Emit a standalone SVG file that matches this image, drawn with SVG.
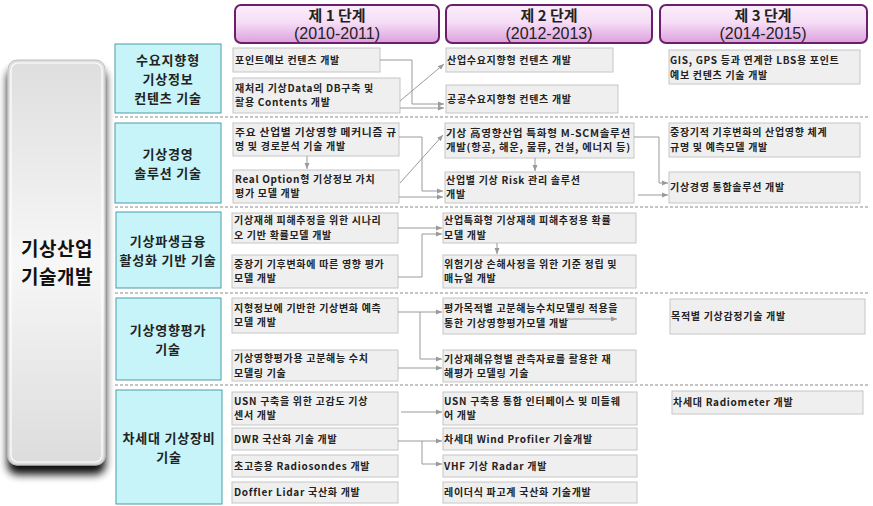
<svg xmlns="http://www.w3.org/2000/svg" width="873" height="506" viewBox="0 0 873 506">
<defs>
<linearGradient id="hdr" x1="0" y1="0" x2="0" y2="1">
<stop offset="0" stop-color="#fbeefb"/>
<stop offset="0.45" stop-color="#f6def6"/>
<stop offset="1" stop-color="#dc9fdc"/>
</linearGradient>
<linearGradient id="big" x1="0" y1="0" x2="0" y2="1">
<stop offset="0" stop-color="#dedede"/>
<stop offset="0.5" stop-color="#f7f7f7"/>
<stop offset="1" stop-color="#dcdcdc"/>
</linearGradient>
<filter id="sh" x="-30%" y="-10%" width="160%" height="125%">
<feGaussianBlur in="SourceAlpha" stdDeviation="4"/>
<feOffset dx="0" dy="9" result="b"/>
<feComponentTransfer><feFuncA type="linear" slope="0.95"/></feComponentTransfer>
<feMerge><feMergeNode/><feMergeNode in="SourceGraphic"/></feMerge>
</filter>
<marker id="ah" markerWidth="6" markerHeight="6" refX="6" refY="3" orient="auto" markerUnits="userSpaceOnUse">
<path d="M0,0.5 L6,3 L0,5.5 z" fill="#9a9a9a"/>
</marker>
<style>
.hb{fill:url(#hdr);stroke:#6b1f6b;stroke-width:2}
.h1{font-family:"Noto Sans CJK KR","Noto Sans",sans-serif;font-size:15px;font-weight:700;fill:#222;text-anchor:middle}
.h2{font-family:"Liberation Sans",Arial,sans-serif;font-size:16px;fill:#222;text-anchor:middle}
.cat{fill:#c6f4f8;stroke:#4b9da6;stroke-width:1}
.ct{font-family:"Noto Sans CJK KR","Noto Sans",sans-serif;font-size:13px;font-weight:700;fill:#222;text-anchor:middle;letter-spacing:0.8px}
.it{fill:#efefef;stroke:#c6c6c6;stroke-width:1}
.t{font-family:"Noto Sans CJK KR","Noto Sans",sans-serif;font-size:10px;font-weight:700;fill:#222;letter-spacing:0.7px}
.sep{stroke:#8a8a8a;stroke-width:1;stroke-dasharray:3 2;fill:none}
.cn{fill:none;stroke:#9a9a9a;stroke-width:1;marker-end:url(#ah)}
.bt{font-family:"Noto Sans CJK KR","Noto Sans",sans-serif;font-size:19px;font-weight:700;fill:#111;text-anchor:middle;letter-spacing:0.5px}
</style>
</defs>
<rect width="873" height="506" fill="#ffffff"/>

<g id="headers">
<g id="stage1"><rect class="hb" x="235" y="5" width="204" height="38" rx="6"/><text class="h1" x="337" y="21">제 1 단계</text><text class="h2" x="337" y="39">(2010-2011)</text></g>
<g id="stage2"><rect class="hb" x="446" y="5" width="206" height="38" rx="6"/><text class="h1" x="549" y="21">제 2 단계</text><text class="h2" x="549" y="39">(2012-2013)</text></g>
<g id="stage3"><rect class="hb" x="660" y="5" width="207" height="38" rx="6"/><text class="h1" x="763" y="21">제 3 단계</text><text class="h2" x="763" y="39">(2014-2015)</text></g>
</g>

<g id="main">
<rect x="8" y="60" width="97" height="405" rx="9" fill="url(#big)" stroke="#bdbdbd" stroke-width="1" filter="url(#sh)"/>
<rect x="11" y="63" width="91" height="399" rx="7" fill="none" stroke="#ffffff" stroke-width="1.2"/>
<text class="bt" x="57" y="256"><tspan x="57">기상산업</tspan><tspan x="57" dy="28">기술개발</tspan></text>
</g>

<g id="separators">
<line class="sep" x1="115" y1="117" x2="868" y2="117"/>
<line class="sep" x1="115" y1="207" x2="868" y2="207"/>
<line class="sep" x1="115" y1="293" x2="868" y2="293"/>
<line class="sep" x1="115" y1="385" x2="868" y2="385"/>
</g>

<g id="cat1"><rect class="cat" x="115" y="44" width="106" height="69"/><text class="ct" x="168" y="64.5"><tspan x="168">수요지향형</tspan><tspan x="168" dy="19">기상정보</tspan><tspan x="168" dy="19">컨텐츠 기술</tspan></text></g>
<g id="cat2"><rect class="cat" x="115" y="123" width="106" height="80"/><text class="ct" x="168" y="158.5"><tspan x="168">기상경영</tspan><tspan x="168" dy="19">솔루션 기술</tspan></text></g>
<g id="cat3"><rect class="cat" x="116" y="212" width="105" height="76"/><text class="ct" x="168" y="245.5"><tspan x="168">기상파생금융</tspan><tspan x="168" dy="19">활성화 기반 기술</tspan></text></g>
<g id="cat4"><rect class="cat" x="116" y="298" width="105" height="82"/><text class="ct" x="168" y="334.5"><tspan x="168">기상영향평가</tspan><tspan x="168" dy="19">기술</tspan></text></g>
<g id="cat5"><rect class="cat" x="116" y="390" width="106" height="114"/><text class="ct" x="169" y="442.5"><tspan x="169">차세대 기상장비</tspan><tspan x="169" dy="19">기술</tspan></text></g>

<g id="r1s1a"><rect class="it" x="233" y="48" width="147" height="24"/><text class="t" x="235" y="63.6">포인트예보 컨텐츠 개발</text></g>
<g id="r1s1b"><rect class="it" x="233" y="78" width="167" height="35"/><text class="t" x="235" y="91.8"><tspan x="235">재처리 기상Data의 DB구축 및</tspan><tspan x="235" dy="14.6">활용 Contents 개발</tspan></text></g>
<g id="r1s2a"><rect class="it" x="446" y="48" width="167" height="24"/><text class="t" x="447" y="63.6">산업수요지향형 컨텐츠 개발</text></g>
<g id="r1s2b"><rect class="it" x="446" y="85" width="172" height="28"/><text class="t" x="447" y="102.6">공공수요지향형 컨텐츠 개발</text></g>
<g id="r1s3"><rect class="it" x="669" y="50" width="191" height="34"/><text class="t" x="670" y="64.3"><tspan x="670">GIS, GPS 등과 연계한 LBS용 포인트</tspan><tspan x="670" dy="14.6">예보 컨텐츠 기술 개발</tspan></text></g>

<g id="r2s1a"><rect class="it" x="233" y="123" width="166" height="33"/><text class="t" x="235" y="135.8"><tspan x="235" textLength="162" lengthAdjust="spacingAndGlyphs">주요 산업별 기상영향 메커니즘 규</tspan><tspan x="235" dy="14.6">명 및 경로분석 기술 개발</tspan></text></g>
<g id="r2s1b"><rect class="it" x="233" y="170" width="166" height="33"/><text class="t" x="235" y="182.8"><tspan x="235">Real Option형 기상정보 가치</tspan><tspan x="235" dy="14.6">평가 모델 개발</tspan></text></g>
<g id="r2s2a"><rect class="it" x="445" y="123" width="189" height="35"/><text class="t" x="446" y="136.8"><tspan x="446" textLength="185" lengthAdjust="spacingAndGlyphs">기상 高영향산업 특화형 M-SCM솔루션</tspan><tspan x="446" dy="14.6" textLength="185" lengthAdjust="spacingAndGlyphs">개발(항공, 해운, 물류, 건설, 에너지 등)</tspan></text></g>
<g id="r2s2b"><rect class="it" x="445" y="172" width="189" height="31"/><text class="t" x="446" y="183.8"><tspan x="446">산업별 기상 Risk 관리 솔루션</tspan><tspan x="446" dy="14.6">개발</tspan></text></g>
<g id="r2s3a"><rect class="it" x="669" y="123" width="191" height="34"/><text class="t" x="670" y="136.3"><tspan x="670">중장기적 기후변화의 산업영향 체계</tspan><tspan x="670" dy="14.6">규명 및 예측모델 개발</tspan></text></g>
<g id="r2s3b"><rect class="it" x="669" y="172" width="191" height="31"/><text class="t" x="670" y="191">기상경영 통합솔루션 개발</text></g>

<g id="r3s1a"><rect class="it" x="232" y="213" width="166" height="30"/><text class="t" x="234" y="224.3"><tspan x="234">기상재해 피해추정을 위한 시나리</tspan><tspan x="234" dy="14.6">오 기반 확률모델 개발</tspan></text></g>
<g id="r3s1b"><rect class="it" x="232" y="255" width="166" height="33"/><text class="t" x="234" y="267.8"><tspan x="234">중장기 기후변화에 따른 영향 평가</tspan><tspan x="234" dy="14.6">모델 개발</tspan></text></g>
<g id="r3s2a"><rect class="it" x="443" y="213" width="193" height="30"/><text class="t" x="444" y="224.3"><tspan x="444">산업특화형 기상재해 피해추정용 확률</tspan><tspan x="444" dy="14.6">모델 개발</tspan></text></g>
<g id="r3s2b"><rect class="it" x="443" y="255" width="193" height="33"/><text class="t" x="444" y="267.8"><tspan x="444">위험기상 손해사정을 위한 기준 정립 및</tspan><tspan x="444" dy="14.6">매뉴얼 개발</tspan></text></g>

<g id="r4s1a"><rect class="it" x="232" y="298" width="166" height="35"/><text class="t" x="234" y="311.8"><tspan x="234">지형정보에 기반한 기상변화 예측</tspan><tspan x="234" dy="14.6">모델 개발</tspan></text></g>
<g id="r4s1b"><rect class="it" x="232" y="350" width="166" height="31"/><text class="t" x="234" y="362.3"><tspan x="234">기상영향평가용 고분해능 수치</tspan><tspan x="234" dy="14.6">모델링 기술</tspan></text></g>
<g id="r4s2a"><rect class="it" x="443" y="298" width="193" height="36"/><text class="t" x="444" y="312.3"><tspan x="444">평가목적별 고분해능수치모델링 적용을</tspan><tspan x="444" dy="14.6">통한 기상영향평가모델 개발</tspan></text></g>
<g id="r4s2b"><rect class="it" x="443" y="350" width="193" height="32"/><text class="t" x="444" y="362.8"><tspan x="444">기상재해유형별 관측자료를 활용한 재</tspan><tspan x="444" dy="14.6">해평가 모델링 기술</tspan></text></g>
<g id="r4s3"><rect class="it" x="670" y="299" width="195" height="35"/><text class="t" x="671" y="320">목적별 기상감정기술 개발</text></g>

<g id="r5s1a"><rect class="it" x="232" y="392" width="166" height="33"/><text class="t" x="234" y="404.8"><tspan x="234">USN 구축을 위한 고감도 기상</tspan><tspan x="234" dy="14.6">센서 개발</tspan></text></g>
<g id="r5s1b"><rect class="it" x="232" y="428" width="166" height="22"/><text class="t" x="234" y="442.6">DWR 국산화 기술 개발</text></g>
<g id="r5s1c"><rect class="it" x="232" y="455" width="166" height="22"/><text class="t" x="234" y="469.6">초고층용 Radiosondes 개발</text></g>
<g id="r5s1d"><rect class="it" x="232" y="482" width="166" height="21"/><text class="t" x="234" y="496">Doffler Lidar 국산화 개발</text></g>
<g id="r5s2a"><rect class="it" x="443" y="392" width="194" height="33"/><text class="t" x="444" y="404.8"><tspan x="444">USN 구축용 통합 인터페이스 및 미들웨</tspan><tspan x="444" dy="14.6">어 개발</tspan></text></g>
<g id="r5s2b"><rect class="it" x="443" y="428" width="194" height="22"/><text class="t" x="444" y="442.6">차세대 Wind Profiler 기술개발</text></g>
<g id="r5s2c"><rect class="it" x="443" y="455" width="194" height="22"/><text class="t" x="444" y="469.6">VHF 기상 Radar 개발</text></g>
<g id="r5s2d"><rect class="it" x="443" y="482" width="194" height="21"/><text class="t" x="444" y="496">레이더식 파고계 국산화 기술개발</text></g>
<g id="r5s3"><rect class="it" x="672" y="391" width="191" height="23"/><text class="t" x="673" y="406">차세대 Radiometer 개발</text></g>

<g id="connectors">
<path class="cn" d="M380,60 H412 V104 H444"/>
<path class="cn" d="M400,108 H444"/>
<path class="cn" d="M400,101 L444,64"/>
<path class="cn" d="M399,137 H422 V191 H443"/>
<path class="cn" d="M399,197 H443"/>
<path class="cn" d="M400,183 L443,135"/>
<path class="cn" d="M307,156 V169"/>
<path class="cn" d="M634,137 H659 V183 H668"/>
<path class="cn" d="M638,195 H668"/>
<path class="cn" d="M535,158 V171"/>
<path class="cn" d="M398,228 H442"/>
<path class="cn" d="M398,277 H422 V234 H442"/>
<path class="cn" d="M497,243 V254"/>
<path class="cn" d="M398,312 H442"/>
<path class="cn" d="M420,312 V359 H442"/>
<path class="cn" d="M398,368 H442"/>
<path class="cn" d="M566,319 H617"/>
<path class="cn" d="M401,412 H442"/>
<path class="cn" d="M398,441 H442"/>
<path class="cn" d="M422,441 V464 H442"/>
</g>
</svg>
